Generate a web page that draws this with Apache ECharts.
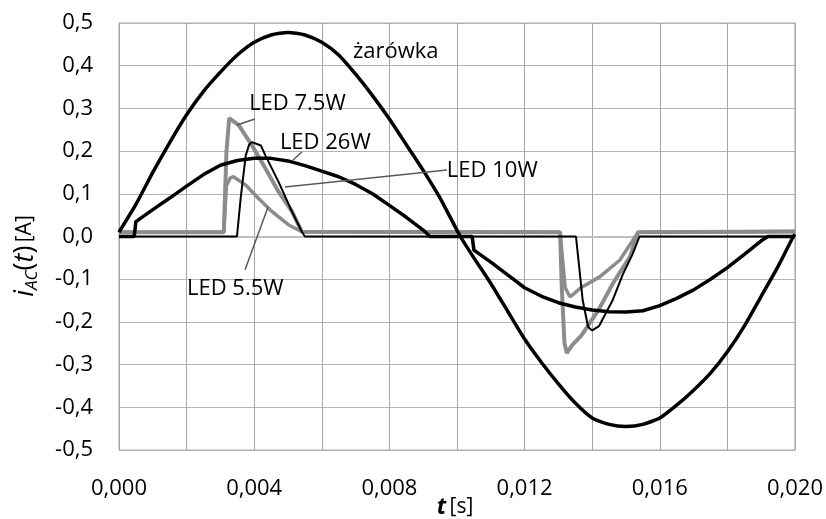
<!DOCTYPE html>
<html>
<head>
<meta charset="utf-8">
<script src="https://cdn.jsdelivr.net/npm/echarts@6/dist/echarts.min.js"></script>
<style>
  html, body { margin: 0; padding: 0; background: #fff; }
  #main { width: 826px; height: 519px; }
</style>
</head>
<body>
<div id="main"></div>
<script>
const chart = echarts.init(document.querySelector("#main"));

// żarówka (bulb)
const bulbT = [0, 0.0005, 0.001, 0.0015, 0.002, 0.0025, 0.003, 0.0035, 0.004, 0.0045, 0.005,
  0.0055, 0.006, 0.0065, 0.007, 0.0075, 0.008, 0.0085, 0.009, 0.0095, 0.0101,
  0.0105, 0.011, 0.0115, 0.012, 0.0125, 0.013, 0.0135, 0.014, 0.0145, 0.015,
  0.0155, 0.016, 0.0165, 0.017, 0.0175, 0.018, 0.0185, 0.019, 0.0195, 0.01995, 0.02];
const bulbI = [0.01, 0.075, 0.15, 0.22, 0.285, 0.34, 0.385, 0.425, 0.455, 0.472, 0.478,
  0.472, 0.455, 0.425, 0.38, 0.33, 0.275, 0.215, 0.155, 0.09, 0,
  -0.05, -0.11, -0.175, -0.24, -0.295, -0.345, -0.39, -0.425, -0.44, -0.445,
  -0.44, -0.425, -0.395, -0.36, -0.32, -0.27, -0.21, -0.14, -0.07, 0, 0.005];

// LED 26W
const led26T = [0, 0.00045, 0.0005, 0.001, 0.0015, 0.002, 0.0025, 0.003, 0.0035, 0.004, 0.0045,
  0.005, 0.0055, 0.006, 0.0065, 0.007, 0.0075, 0.008, 0.0085, 0.009, 0.0092,
  0.01045, 0.0105, 0.011, 0.0115, 0.012, 0.0125, 0.013, 0.0135, 0.014, 0.0145, 0.015,
  0.0155, 0.016, 0.0165, 0.017, 0.0175, 0.018, 0.0185, 0.019, 0.0192, 0.02];
const led26I = [0, 0, 0.035, 0.063, 0.09, 0.118, 0.145, 0.167, 0.178, 0.183, 0.183,
  0.177, 0.166, 0.153, 0.14, 0.122, 0.1, 0.073, 0.045, 0.015, 0,
  0, -0.032, -0.06, -0.09, -0.12, -0.14, -0.155, -0.165, -0.172, -0.176, -0.177,
  -0.174, -0.162, -0.145, -0.125, -0.1, -0.073, -0.042, -0.01, 0, 0];

// LED 10W
const led10T = [0, 0.00349, 0.0036, 0.00375, 0.00385, 0.00393, 0.0042, 0.00433, 0.00472, 0.00512, 0.00541, 0.0055,
  0.01352, 0.01372, 0.01388, 0.014, 0.0142, 0.0146, 0.0149, 0.0152, 0.0154, 0.02];
const led10I = [0, 0, 0.09, 0.19, 0.215, 0.221, 0.213, 0.19, 0.128, 0.058, 0.011, 0,
  0, -0.15, -0.212, -0.22, -0.21, -0.15, -0.09, -0.04, 0, 0];

// LED 7.5W
const led75T = [0, 0.0031, 0.00318, 0.00326, 0.00354, 0.00393, 0.00433, 0.00472, 0.00512, 0.00541,
  0.01305, 0.0131, 0.01318, 0.01325, 0.0134, 0.01369, 0.0142, 0.01462, 0.01512, 0.01536, 0.02];
const led75I = [0.01, 0.01, 0.2, 0.277, 0.261, 0.214, 0.16, 0.105, 0.058, 0.011,
  0.01, -0.12, -0.25, -0.273, -0.255, -0.231, -0.17, -0.109, -0.047, 0.01, 0.012];

// LED 5.5W
const led55T = [0, 0.0031, 0.00318, 0.0033, 0.00339, 0.00374, 0.00413, 0.00453, 0.00502, 0.00541,
  0.01305, 0.0132, 0.01334, 0.01345, 0.01364, 0.01423, 0.01482, 0.01536, 0.02];
const led55I = [0.01, 0.01, 0.12, 0.138, 0.14, 0.121, 0.089, 0.058, 0.027, 0.011,
  0.01, -0.12, -0.141, -0.135, -0.121, -0.094, -0.055, 0.01, 0.012];

// annotations: [text, textAnchor(t,i), leader from, leader to]
const notes = [
  ["żarówka", [0.00692, 0.433], null, null],
  ["LED 7.5W", [0.00385, 0.31], [0.00402, 0.275], [0.00349, 0.261]],
  ["LED 26W", [0.00476, 0.22], [0.00541, 0.198], [0.00515, 0.179]],
  ["LED 10W", [0.0097, 0.153], [0.0097, 0.156], [0.00491, 0.116]],
  ["LED 5.5W", [0.00201, -0.123], [0.00373, -0.078], [0.00441, 0.069]]
];

const zip = (t, v) => t.map((x, i) => [x, v[i]]);
const FONT = "Open Sans";

function lineSeries(name, t, v, color, width, smooth) {
  return {
    name: name,
    type: "line",
    data: zip(t, v),
    showSymbol: false,
    smooth: smooth || false,
    lineStyle: { color: color, width: width },
    itemStyle: { color: color },
    silent: true,
    animation: false
  };
}

const leaderData = notes
  .filter((n) => n[2])
  .map((n) => [{ coord: n[2] }, { coord: n[3] }]);

const series = [
  lineSeries("LED 5.5W", led55T, led55I, "#8c8c8c", 3.5),
  lineSeries("LED 7.5W", led75T, led75I, "#8c8c8c", 4),
  lineSeries("LED 26W", led26T, led26I, "#000", 3.5),
  lineSeries("LED 10W", led10T, led10I, "#000", 2),
  lineSeries("żarówka", bulbT, bulbI, "#000", 3.5, 0.2)
];
series[0].markLine = {
  silent: true,
  symbol: "none",
  animation: false,
  label: { show: false },
  lineStyle: { color: "#595959", width: 1.5, type: "solid" },
  data: leaderData
};

let option = {
  animation: false,
  grid: {
    left: 119, right: 31, top: 23, bottom: 69,
    show: true, borderColor: "#a6a6a6", borderWidth: 1
  },
  xAxis: {
    type: "value",
    min: 0, max: 0.02, interval: 0.002,
    axisLine: { show: true, lineStyle: { color: "#bfbfbf", width: 2 } },
    axisTick: { show: false },
    splitLine: { show: true, lineStyle: { color: "#a6a6a6", width: 1 } },
    axisLabel: {
      margin: 28,
      color: "#000",
      fontFamily: FONT,
      fontSize: 22,
      formatter: (v) => {
        const k = Math.round(v * 1000);
        return k % 4 === 0 ? (k / 1000).toFixed(3).replace(".", ",") : "";
      }
    }
  },
  yAxis: {
    type: "value",
    min: -0.5, max: 0.5, interval: 0.1,
    axisLine: { show: true, lineStyle: { color: "#a6a6a6", width: 1 } },
    axisTick: { show: false },
    splitLine: { show: true, lineStyle: { color: "#b4b4b4", width: 1 } },
    axisLabel: {
      margin: 26,
      color: "#000",
      fontFamily: FONT,
      fontSize: 22,
      formatter: (v) => {
        const r = Math.round(v * 10) / 10;
        return (r === 0 ? "0.0" : r.toFixed(1)).replace(".", ",");
      }
    }
  },
  series: series
};
chart.setOption(option);

// text labels and axis titles
const graphics = notes.map((n) => {
  const p = chart.convertToPixel({ gridIndex: 0 }, n[1]);
  return {
    type: "text",
    x: p[0], y: p[1],
    silent: true,
    style: {
      text: n[0],
      fill: "#000",
      font: "22px '" + FONT + "'",
      textAlign: "left",
      textVerticalAlign: "middle"
    }
  };
});

graphics.push({
  type: "text",
  x: 25, y: 256,
  rotation: Math.PI / 2,
  silent: true,
  style: {
    text: "{i|i}{sub|AC}{n|(}{i|t}{n|)} {u|[A]}",
    align: "center",
    verticalAlign: "middle",
    rich: {
      i: { fontFamily: FONT, fontSize: 27, fontStyle: "italic", fill: "#000" },
      sub: { fontFamily: FONT, fontSize: 17, fontStyle: "italic", fill: "#000", padding: [14, 0, 0, 0] },
      n: { fontFamily: FONT, fontSize: 27, fill: "#000" },
      u: { fontFamily: FONT, fontSize: 21, fill: "#000" }
    }
  }
});

graphics.push({
  type: "text",
  x: 455, y: 507,
  silent: true,
  style: {
    text: "{t|t} {u|[s]}",
    align: "center",
    verticalAlign: "middle",
    rich: {
      t: { fontFamily: FONT, fontSize: 23, fontStyle: "italic", fontWeight: "bold", fill: "#000" },
      u: { fontFamily: FONT, fontSize: 21, fill: "#000" }
    }
  }
});

chart.setOption({ graphic: graphics });
</script>
</body>
</html>
